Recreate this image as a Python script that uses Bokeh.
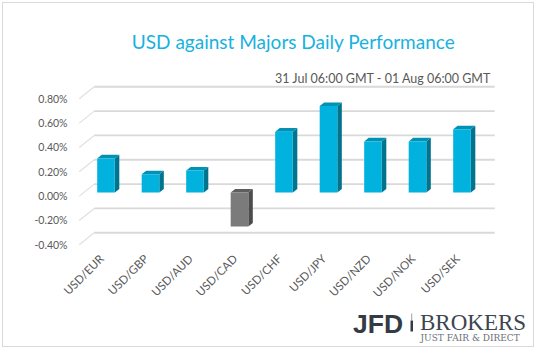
import math
from bokeh.plotting import figure
from bokeh.models import (Range1d, FixedTicker, PrintfTickFormatter, CustomJSTickFormatter,
                          Label, ColumnDataSource, BoxAnnotation)
from bokeh.embed import file_html
from bokeh.resources import INLINE

# ---------------- data ----------------
categories = ["USD/EUR", "USD/GBP", "USD/AUD", "USD/CAD", "USD/CHF",
              "USD/JPY", "USD/NZD", "USD/NOK", "USD/SEK"]
values = [0.28, 0.15, 0.18, -0.28, 0.50, 0.71, 0.42, 0.42, 0.52]
y_ticks = [-0.4, -0.2, 0.0, 0.2, 0.4, 0.6, 0.8]
title_text = "USD against Majors Daily Performance"
subtitle_text = "31 Jul 06:00 GMT - 01 Aug 06:00 GMT"

# ---------------- geometry (page pixels) ----------------
OFF = 3                     # canvas offset inside the bordered box
W, H = 532, 345
AXIS_L_PX, AXIS_B_PX = 78, 250
PX_PER_CAT = 44.5
CAT0_PX = 101.0
PX_PER_PCT = 121.67
ZERO_PX = 195.6
DEPTH_DX, DEPTH_DY = 15.0, 12.0     # perspective offset of the back wall (px)
BAR_D0, BAR_D1 = 0.30, 0.60         # bar depth (fraction)
BAR_W = 0.396                       # bar width in category units
BASELINE_K = 0.27                   # label baseline correction (fraction of font size)


def inv_x(px):
    return (px - CAT0_PX) / PX_PER_CAT


def inv_y(py):
    return (ZERO_PX - py) / PX_PER_PCT


ddx = DEPTH_DX / PX_PER_CAT
ddy = DEPTH_DY / PX_PER_PCT

p = figure(width=W, height=H, output_backend="svg", toolbar_location=None,
           x_range=Range1d(inv_x(OFF), inv_x(OFF + W)),
           y_range=Range1d(inv_y(OFF + H), inv_y(OFF)),
           min_border=0, min_border_left=0, min_border_right=0,
           min_border_top=0, min_border_bottom=0,
           outline_line_color=None, background_fill_color="white",
           border_fill_color="white")
p.styles = {"margin": "2px", "border": "1px solid #d9d9d9"}
p.xgrid.visible = False
p.ygrid.visible = False

# ---------------- 3D gridlines ----------------
x_left = -0.5
x_right = len(categories) - 0.5 + ddx
side_xs = [[x_left, x_left + ddx] for t in y_ticks]
side_ys = [[t, t + ddy] for t in y_ticks]
back_xs = [[x_left + ddx, x_right] for t in y_ticks]
back_ys = [[t + ddy, t + ddy] for t in y_ticks]
p.multi_line(side_xs, side_ys, line_color="#e0e0e0", line_width=1.2)
p.multi_line(back_xs, back_ys, line_color="#d9d9d9", line_width=1.8)

# ---------------- bars ----------------
ox0, oy0 = BAR_D0 * ddx, BAR_D0 * ddy
sdx, sdy = (BAR_D1 - BAR_D0) * ddx, (BAR_D1 - BAR_D0) * ddy

front = dict(left=[], right=[], bottom=[], top=[], color=[])
top_xs, top_ys, top_c = [], [], []
side_xs2, side_ys2, side_c = [], [], []
for i, v in enumerate(values):
    pos = v >= 0
    x0 = i - BAR_W / 2 + ox0
    x1 = i + BAR_W / 2 + ox0
    yb = min(0, v) + oy0
    yt = max(0, v) + oy0
    front["left"].append(x0)
    front["right"].append(x1)
    front["bottom"].append(yb)
    front["top"].append(yt)
    front["color"].append("#00b2dd" if pos else "#7b7b7b")
    top_xs.append([x0, x1, x1 + sdx, x0 + sdx])
    top_ys.append([yt, yt, yt + sdy, yt + sdy])
    top_c.append("#0092b4" if pos else "#5e5e5e")
    side_xs2.append([x1, x1, x1 + sdx, x1 + sdx])
    side_ys2.append([yb, yt, yt + sdy, yb + sdy])
    side_c.append("#00738d" if pos else "#4c4c4c")

p.patches(side_xs2, side_ys2, fill_color=side_c, line_color=None)
p.patches(top_xs, top_ys, fill_color=top_c, line_color=None)
p.quad(source=ColumnDataSource(front), left="left", right="right", bottom="bottom",
       top="top", fill_color="color", line_color=None)

# ---------------- axes (fixed inside the full-canvas frame) ----------------
FONT = "Lato"
LABEL_C = "#595959"
ya = p.yaxis[0]
ya.fixed_location = inv_x(AXIS_L_PX)
ya.ticker = FixedTicker(ticks=y_ticks)
ya.formatter = PrintfTickFormatter(format="%.2f%%")
ya.axis_line_color = None
ya.major_tick_line_color = None
ya.minor_tick_line_color = None
ya.major_tick_out = 0
ya.major_tick_in = 0
ya.major_label_standoff = 11
ya.major_label_text_font = FONT
ya.major_label_text_font_size = "10.5px"
ya.major_label_text_color = LABEL_C

X_TICK_SHIFT = 0.0
xa = p.xaxis[0]
xa.fixed_location = inv_y(AXIS_B_PX)
xa.ticker = FixedTicker(ticks=[i + X_TICK_SHIFT for i in range(len(categories))])
xa.formatter = CustomJSTickFormatter(args=dict(cats=categories),
                                     code="return cats[Math.round(tick)] || '';")
xa.major_label_orientation = math.pi / 4
xa.axis_line_color = None
xa.major_tick_line_color = None
xa.minor_tick_line_color = None
xa.major_tick_out = 0
xa.major_tick_in = 0
xa.major_label_standoff = 6
xa.major_label_text_font = FONT
xa.major_label_text_font_size = "11.5px"
xa.major_label_text_color = LABEL_C


# ---------------- texts ----------------
def page_label(px, py, text, size, **kw):
    y = py - BASELINE_K * size
    p.add_layout(Label(x=inv_x(px), y=inv_y(y), text=text, text_baseline="alphabetic",
                       text_font_size=f"{size}px", **kw))


page_label(293, 46, title_text, 19, text_align="center",
           text_font=FONT, text_color="#17b2e0")
page_label(491, 81, subtitle_text, 12.5, text_align="right",
           text_font=FONT, text_color="#595959")
page_label(352.5, 331, "JFD", 26.5, text_align="left",
           text_font="Liberation Sans", text_font_style="bold", text_color="#343b45")
page_label(419.5, 328.5, "BROKERS", 23, text_align="left",
           text_font="Liberation Serif", text_color="#3d4550")
page_label(420, 339.5, "JUST FAIR & DIRECT", 9, text_align="left",
           text_font="DejaVu Serif", text_color="#6a7078")

# logo separator bar
p.add_layout(BoxAnnotation(left=inv_x(410), right=inv_x(412.5), top=inv_y(320),
                           bottom=inv_y(331), fill_color="#343b45", fill_alpha=1,
                           line_color=None))
p.add_layout(BoxAnnotation(left=inv_x(410.7), right=inv_x(411.7), top=inv_y(313),
                           bottom=inv_y(320), fill_color="#9aa0a8", fill_alpha=1,
                           line_color=None))

open("out.html", "w").write(file_html(p, INLINE))
